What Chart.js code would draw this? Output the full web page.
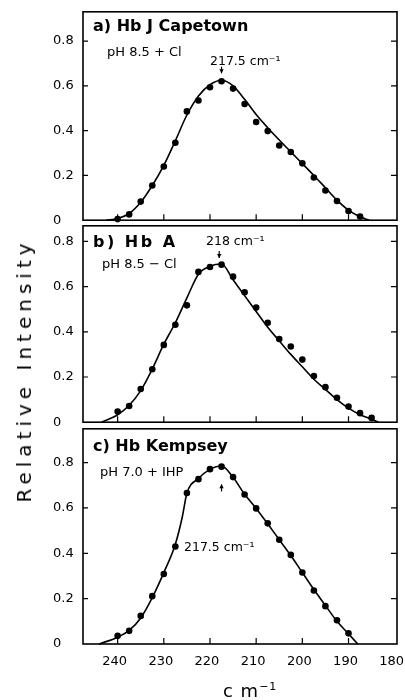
<!DOCTYPE html>
<html>
<head>
<meta charset="utf-8">
<script src="https://cdn.jsdelivr.net/npm/chart.js@4.4.1/dist/chart.umd.min.js"></script>
<style>
  html, body { margin: 0; padding: 0; background: #fff; }
  #wrap { position: relative; width: 405px; height: 700px; overflow: hidden; }
  canvas { position: absolute; left: 0; }
  .ytitle {
    position: absolute; left: 24px; top: 373px;
    transform: translate(-50%, -50%) rotate(-90deg);
    font: 20px "DejaVu Sans"; letter-spacing: 5px; padding-left: 5px;
    white-space: nowrap; color: #000;
  }
  .xtitle {
    position: absolute; left: 223px; top: 682px;
    font: 18px "DejaVu Sans"; line-height: 18px; letter-spacing: 1px;
    white-space: nowrap; color: #000;
  }
  .xtitle sup { font-size: 11px; vertical-align: 7px; line-height: 0; }
</style>
</head>
<body>
<div id="wrap">
  <canvas id="chartA" width="405" height="232" style="top:0px"></canvas>
  <canvas id="chartB" width="405" height="220" style="top:214px"></canvas>
  <canvas id="chartC" width="405" height="283" style="top:417px"></canvas>
  <div class="ytitle">Relative Intensity</div>
  <div class="xtitle">c m<sup>−1</sup></div>
</div>
<script>
// Axis ticks
const xTicks = [240, 230, 220, 210, 200, 190, 180];
const yTicks = [0, 0.2, 0.4, 0.6, 0.8];
const yTickLabels = ["0", "0.2", "0.4", "0.6", "0.8"];

// a) Hb J Capetown - measured points
const pointWavenumbersA = [240, 237.5, 235, 232.5, 230, 227.5, 225, 222.5, 220, 217.5, 215, 212.5, 210, 207.5, 205, 202.5, 200, 197.5, 195, 192.5, 190, 187.5];
const pointIntensityA = [0.005, 0.026, 0.083, 0.155, 0.24, 0.346, 0.486, 0.535, 0.594, 0.621, 0.588, 0.519, 0.439, 0.398, 0.334, 0.305, 0.254, 0.191, 0.133, 0.086, 0.041, 0.016];
// a) fitted curve
const fitWavenumbersA = [242.5, 240, 237.5, 235, 232.5, 230, 227.5, 225, 222.5, 220, 217.5, 215, 212.5, 210, 207.5, 205, 202.5, 200, 197.5, 195, 192.5, 190, 187.5, 185.5];
const fitIntensityA = [0, 0.008, 0.03, 0.08, 0.155, 0.245, 0.355, 0.47, 0.555, 0.605, 0.625, 0.6, 0.54, 0.472, 0.413, 0.358, 0.305, 0.253, 0.2, 0.145, 0.09, 0.045, 0.015, 0];

// b) Hb A
const pointWavenumbersB = [240, 237.5, 235, 232.5, 230, 227.5, 225, 222.5, 220, 217.5, 215, 212.5, 210, 207.5, 205, 202.5, 200, 197.5, 195, 192.5, 190, 187.5, 185];
const pointIntensityB = [0.047, 0.072, 0.147, 0.234, 0.342, 0.431, 0.517, 0.665, 0.687, 0.697, 0.644, 0.575, 0.507, 0.44, 0.368, 0.335, 0.277, 0.204, 0.155, 0.108, 0.069, 0.04, 0.019];
const fitWavenumbersB = [243.5, 240, 237.5, 235, 232.5, 230, 227.5, 225, 222.5, 220, 217.5, 215, 212.5, 210, 207.5, 205, 202.5, 200, 197.5, 195, 192.5, 190, 187.5, 185, 183.5];
const fitIntensityB = [0, 0.033, 0.075, 0.14, 0.235, 0.345, 0.44, 0.55, 0.655, 0.69, 0.7, 0.63, 0.56, 0.49, 0.42, 0.36, 0.3, 0.245, 0.19, 0.145, 0.1, 0.062, 0.033, 0.013, 0];

// c) Hb Kempsey
const pointWavenumbersC = [240, 237.5, 235, 232.5, 230, 227.5, 225, 222.5, 220, 217.5, 215, 212.5, 210, 207.5, 205, 202.5, 200, 197.5, 195, 192.5, 190];
const pointIntensityC = [0.036, 0.058, 0.124, 0.211, 0.309, 0.43, 0.666, 0.727, 0.771, 0.782, 0.736, 0.659, 0.598, 0.532, 0.46, 0.393, 0.315, 0.236, 0.167, 0.105, 0.047];
const fitWavenumbersC = [244, 240, 237.5, 235, 232.5, 230, 227.5, 226, 225, 222.5, 220, 217.5, 215, 212.5, 210, 207.5, 205, 202.5, 200, 197.5, 195, 192.5, 190, 188];
const fitIntensityC = [0, 0.03, 0.06, 0.115, 0.205, 0.315, 0.44, 0.56, 0.665, 0.73, 0.77, 0.785, 0.735, 0.66, 0.598, 0.53, 0.46, 0.39, 0.315, 0.24, 0.17, 0.1, 0.045, 0];

// peak positions (cm-1)
const peakA = 217.5;
const peakB = 218;
const peakC = 217.5;

const FONT = "DejaVu Sans";

function toXY(xs, ys) {
  return xs.map((x, i) => ({ x: x, y: ys[i] }));
}

// frame + inward ticks
const framePlugin = {
  id: "frame",
  beforeDatasetsDraw(chart) {
    const { ctx, chartArea: a } = chart;
    const x = chart.scales.x, y = chart.scales.y;
    ctx.save();
    ctx.strokeStyle = "#000";
    ctx.lineWidth = 1.6;
    ctx.strokeRect(a.left, a.top, a.right - a.left, a.bottom - a.top);
    ctx.lineWidth = 1.2;
    ctx.beginPath();
    xTicks.slice(0, -1).forEach(v => {
      const px = x.getPixelForValue(v);
      ctx.moveTo(px, a.bottom);
      ctx.lineTo(px, a.bottom - 6);
    });
    yTicks.slice(1).forEach(v => {
      const py = y.getPixelForValue(v);
      ctx.moveTo(a.left, py);
      ctx.lineTo(a.left + 5, py);
      ctx.moveTo(a.right, py);
      ctx.lineTo(a.right - 6, py);
    });
    ctx.stroke();
    ctx.restore();
  }
};

// panel labels and peak arrows
const notesPlugin = {
  id: "notes",
  afterDraw(chart, args, opts) {
    const { ctx } = chart;
    const x = chart.scales.x, y = chart.scales.y;
    ctx.save();
    ctx.fillStyle = "#000";
    ctx.strokeStyle = "#000";
    ctx.textBaseline = "middle";
    ctx.textAlign = "left";
    (opts.texts || []).forEach(t => {
      ctx.font = t.font;
      if ("letterSpacing" in ctx) ctx.letterSpacing = (t.spacing || 0) + "px";
      ctx.fillText(t.text, t.x, t.y - opts.offset);
    });
    if ("letterSpacing" in ctx) ctx.letterSpacing = "0px";
    const ar = opts.arrow;
    if (ar) {
      const px = x.getPixelForValue(ar.at);
      const y1 = y.getPixelForValue(ar.from);
      const y2 = y.getPixelForValue(ar.to);
      const dir = Math.sign(y2 - y1);
      ctx.lineWidth = 1.2;
      ctx.beginPath();
      ctx.moveTo(px, y1);
      ctx.lineTo(px, y2);
      ctx.stroke();
      ctx.beginPath();
      ctx.moveTo(px, y2);
      ctx.lineTo(px - 2.2, y2 - dir * 4);
      ctx.lineTo(px + 2.2, y2 - dir * 4);
      ctx.closePath();
      ctx.fill();
    }
    ctx.restore();
  }
};

const panels = [
  {
    id: "chartA", offset: 0, yMax: 0.931, showX: false, padTop: 10, padBottom: 9,
    points: toXY(pointWavenumbersA, pointIntensityA),
    fit: toXY(fitWavenumbersA, fitIntensityA),
    texts: [
      { text: "a) Hb J Capetown", x: 93, y: 27, font: "bold 16px " + FONT },
      { text: "pH 8.5 + Cl", x: 107, y: 53, font: "13px " + FONT },
      { text: "217.5 cm⁻¹", x: 210, y: 62, font: "12.5px " + FONT }
    ],
    arrow: { at: peakA, from: 0.686, to: 0.656 }
  },
  {
    id: "chartB", offset: 214, yMax: 0.869, showX: false, padTop: 10, padBottom: 8,
    points: toXY(pointWavenumbersB, pointIntensityB),
    fit: toXY(fitWavenumbersB, fitIntensityB),
    texts: [
      { text: "b) Hb A", x: 93, y: 243, font: "bold 16px " + FONT, spacing: 2.5 },
      { text: "pH 8.5 − Cl", x: 102, y: 265, font: "13px " + FONT },
      { text: "218 cm⁻¹", x: 206, y: 242, font: "12.5px " + FONT }
    ],
    arrow: { at: peakB, from: 0.757, to: 0.727 }
  },
  {
    id: "chartC", offset: 417, yMax: 0.949, showX: true, padTop: 10, padBottom: 0,
    points: toXY(pointWavenumbersC, pointIntensityC),
    fit: toXY(fitWavenumbersC, fitIntensityC),
    texts: [
      { text: "c) Hb Kempsey", x: 93, y: 447, font: "bold 16px " + FONT },
      { text: "pH 7.0 + IHP", x: 100, y: 473, font: "13px " + FONT },
      { text: "217.5 cm⁻¹", x: 184, y: 548, font: "12.5px " + FONT }
    ],
    arrow: { at: peakC, from: 0.673, to: 0.704 }
  }
];

panels.forEach(p => {
  new Chart(document.getElementById(p.id), {
    type: "scatter",
    data: {
      datasets: [
        {
          data: p.fit, showLine: true, borderColor: "#000", borderWidth: 1.6,
          pointRadius: 0, cubicInterpolationMode: "monotone", clip: false, order: 2
        },
        {
          data: p.points, showLine: false, pointRadius: 3.3, pointHoverRadius: 3.3,
          backgroundColor: "#000", borderColor: "#000", borderWidth: 0, clip: false, order: 1
        }
      ]
    },
    options: {
      responsive: false,
      animation: false,
      devicePixelRatio: 1,
      events: [],
      layout: { padding: { left: 53, right: 8, top: p.padTop, bottom: p.padBottom } },
      plugins: {
        legend: { display: false },
        tooltip: { enabled: false },
        notes: { texts: p.texts, arrow: p.arrow, offset: p.offset }
      },
      scales: {
        x: {
          type: "linear", reverse: true, min: 179.5, max: 247.5, display: p.showX,
          grid: { display: false, drawTicks: false }, border: { display: false },
          afterBuildTicks: s => { s.ticks = xTicks.map(v => ({ value: v })); },
          afterFit: s => {
            s.height = p.showX ? 56 : 0;
            s.paddingLeft = 0;
            s.paddingRight = 0;
          },
          ticks: {
            font: { family: FONT, size: 13 }, color: "#000", padding: 10, labelOffset: -3,
            maxRotation: 0, autoSkip: false, callback: v => String(v)
          }
        },
        y: {
          type: "linear", min: 0, max: p.yMax,
          grid: { display: false, drawTicks: false }, border: { display: false },
          afterBuildTicks: s => { s.ticks = yTicks.map(v => ({ value: v })); },
          afterFit: s => { s.width = 30; },
          ticks: {
            font: { family: FONT, size: 13 }, color: "#000", crossAlign: "far",
            padding: 4, autoSkip: false, callback: (v, i) => yTickLabels[i]
          }
        }
      }
    },
    plugins: [framePlugin, notesPlugin]
  });
});
</script>
</body>
</html>
